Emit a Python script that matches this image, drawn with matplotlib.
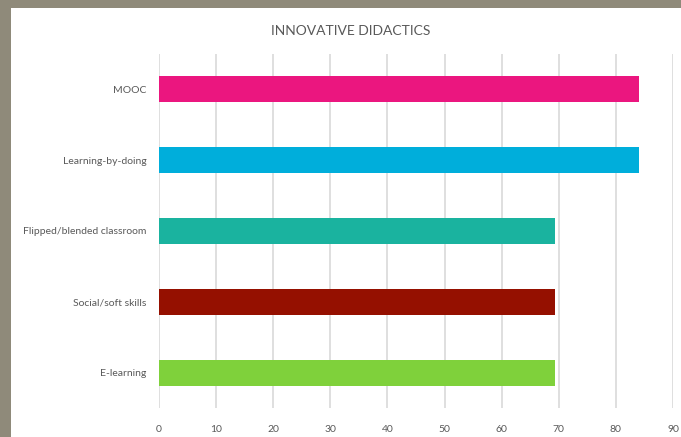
import matplotlib

matplotlib.use("Agg")
import matplotlib.pyplot as plt
from matplotlib.patches import Rectangle

categories = ["MOOC", "Learning-by-doing", "Flipped/blended classroom",
              "Social/soft skills", "E-learning"]
values = [84.1, 84.1, 69.4, 69.4, 69.4]
colors = ["#EB167F", "#00AEDB", "#1AB39F", "#951000", "#7FD13B"]
xticks = list(range(0, 100, 10))

W, H = 681, 437
plt.rcParams["font.family"] = ["Lato", "DejaVu Sans"]

fig = plt.figure(figsize=(W / 100, H / 100), dpi=100)
fig.patch.set_facecolor("#8F8A7A")
# white chart area inside the grey frame (frame only on left and top)
fig.patches.append(Rectangle((11 / W, 0), 1 - 11 / W, 1 - 8 / H,
                             transform=fig.transFigure, facecolor="white",
                             edgecolor="none", zorder=-10))

ax = fig.add_axes([159 / W, (H - 408) / H, (673 - 159) / W, (408 - 54) / H])
ax.set_facecolor("none")

ypos = list(range(len(categories)))
ax.barh(ypos, values, height=0.37, color=colors, zorder=3)
ax.set_yticks(ypos)
ax.set_yticklabels(categories)
ax.set_ylim(len(categories) - 0.5, -0.5)
ax.set_xlim(0, 90)
ax.set_xticks(xticks)

ax.grid(axis="x", color="#D9D9D9", lw=1.2, zorder=0)
for s in ax.spines.values():
    s.set_visible(False)
ax.tick_params(length=0, colors="#595959", labelsize=7.5)
ax.tick_params(axis="x", pad=12)
ax.tick_params(axis="y", pad=9)

fig.text(351 / W, 1 - 31 / H, "INNOVATIVE DIDACTICS", ha="center",
         va="center", fontsize=10, color="#595959")

fig.savefig("out.png", dpi=100, facecolor=fig.get_facecolor())
